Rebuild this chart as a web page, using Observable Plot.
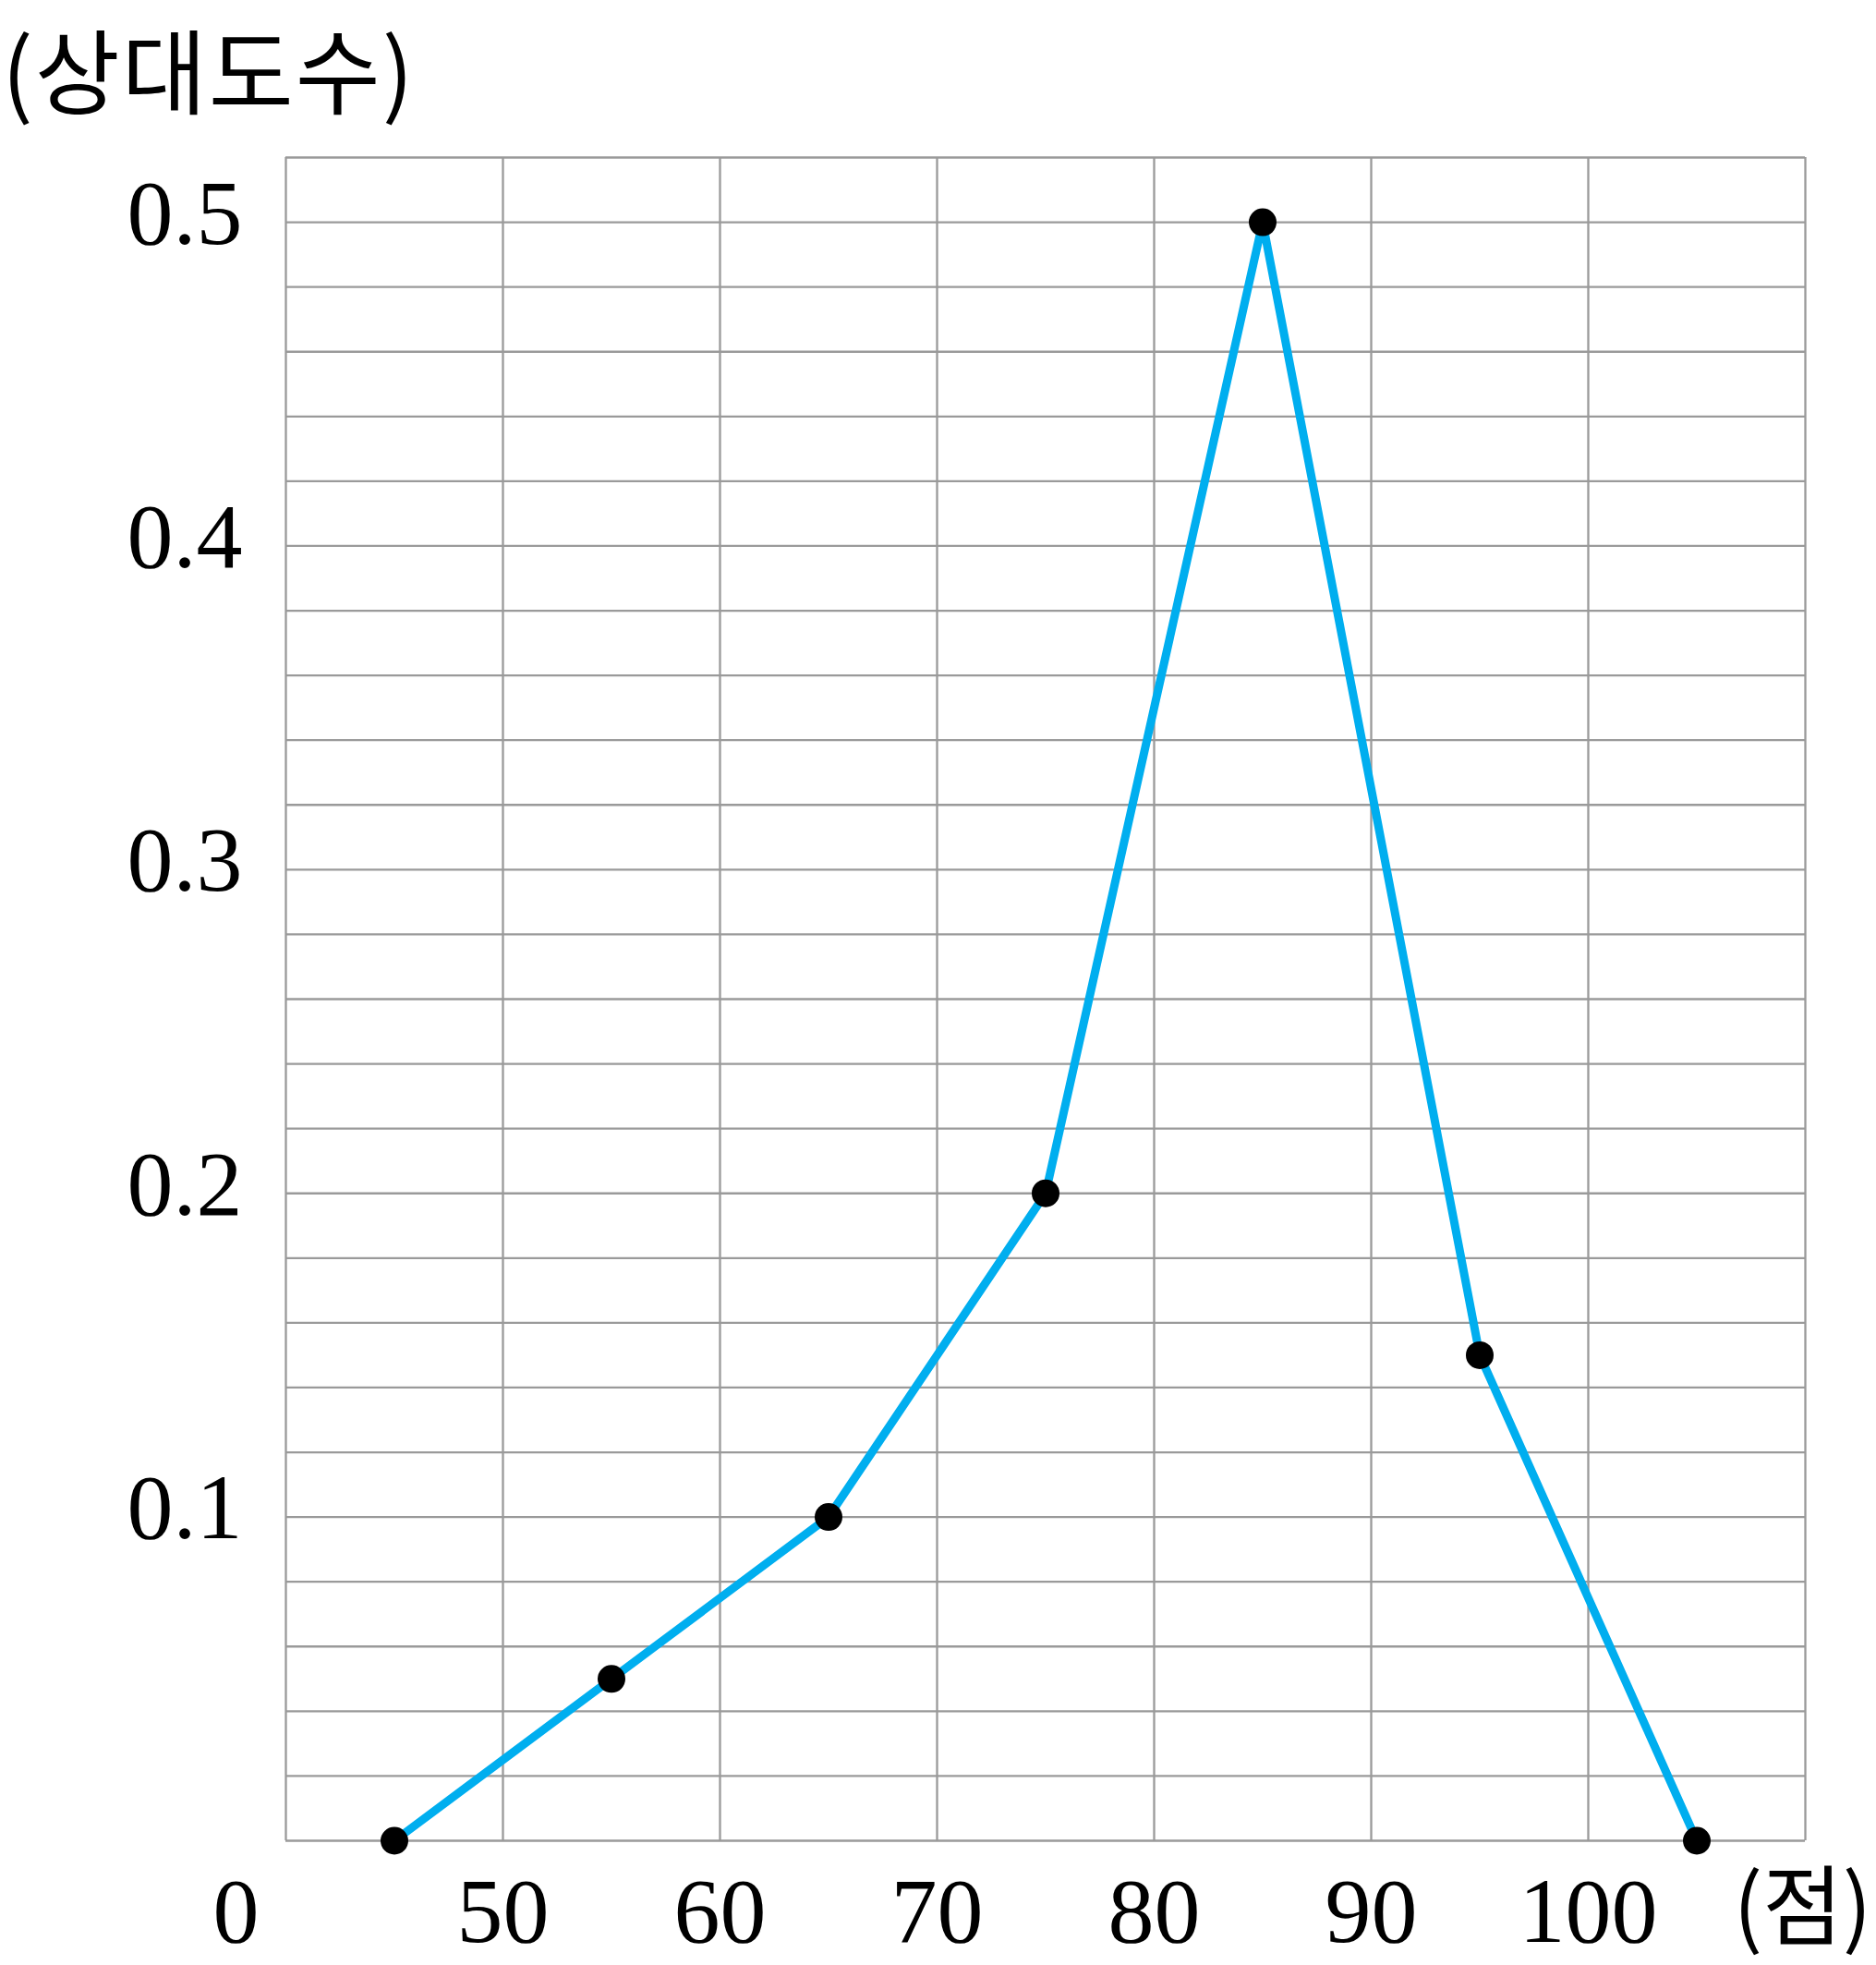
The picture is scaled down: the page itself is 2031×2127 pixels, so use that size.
<!DOCTYPE html>
<html>
<head>
<meta charset="utf-8">
<script src="https://cdn.jsdelivr.net/npm/d3@7"></script>
<script src="https://cdn.jsdelivr.net/npm/@observablehq/plot@0.6"></script>
<style>
  html, body { margin: 0; padding: 0; background: #fff; }
  #title { height: 145px; padding-left: 2px; box-sizing: border-box; font-family: "Noto Sans CJK KR", sans-serif; font-size: 100px; line-height: 145px; letter-spacing: 2px; color: #000; white-space: nowrap; }
  #chart svg { display: block; }
</style>
</head>
<body>
<div id="title">(상대도수)</div>
<div id="chart"></div>
<script>
// Data: class midpoints (점) and relative frequencies (상대도수)
const scores = [45, 55, 65, 75, 85, 95, 105];
const relFreq = [0, 0.05, 0.1, 0.2, 0.5, 0.15, 0];

const xTicks = [50, 60, 70, 80, 90, 100];
const yTicks = [0.1, 0.2, 0.3, 0.4, 0.5];
const xGrid = [40, 50, 60, 70, 80, 90, 100, 110];
const yGrid = [0, 0.02, 0.04, 0.06, 0.08, 0.1, 0.12, 0.14, 0.16, 0.18, 0.2, 0.22, 0.24, 0.26, 0.28, 0.3, 0.32, 0.34, 0.36, 0.38, 0.4, 0.42, 0.44, 0.46, 0.48, 0.5, 0.52];
const xUnit = "(점)";
const originLabel = "0";

const data = scores.map((s, i) => ({score: s, freq: relFreq[i]}));

const gridColor = "#9a9a9a";
const numFont = "'Liberation Serif', 'DejaVu Serif', serif";

const chart = Plot.plot({
  width: 2031,
  height: 1982,
  marginLeft: 309,
  marginRight: 77,
  marginTop: 25,
  marginBottom: 135,
  style: {fontFamily: numFont, fontSize: "100px", color: "#000", background: "#fff"},
  x: {domain: [40, 110], label: null},
  y: {domain: [0, 0.52], label: null},
  marks: [
    Plot.ruleX(xGrid, {stroke: gridColor, strokeWidth: 2.3}),
    Plot.ruleY(yGrid, {stroke: gridColor, strokeWidth: 2.3}),
    Plot.axisX({ticks: xTicks, tickSize: 0, tickPadding: 38, fontSize: 100, fontFamily: numFont, label: null, tickFormat: d => String(d)}),
    Plot.axisY({ticks: yTicks, tickSize: 0, tickPadding: 47, fontSize: 100, fontFamily: numFont, label: null, dy: -9, tickFormat: d => d3.format(".1f")(d)}),
    Plot.text([originLabel], {x: 40, y: 0, text: d => d, dx: -54, dy: 38, fontSize: 100, fontFamily: numFont, lineAnchor: "top"}),
    Plot.text([xUnit], {x: 110, y: 0, text: d => d, dx: -3, dy: 75, fontSize: 94, fontFamily: "'Noto Sans CJK KR', sans-serif", lineAnchor: "middle"}),
    Plot.line(data, {x: "score", y: "freq", stroke: "#00aeef", strokeWidth: 9, strokeLinejoin: "miter"}),
    Plot.dot(data, {x: "score", y: "freq", r: 15, fill: "#000"})
  ]
});
document.getElementById("chart").appendChild(chart);
</script>
</body>
</html>
